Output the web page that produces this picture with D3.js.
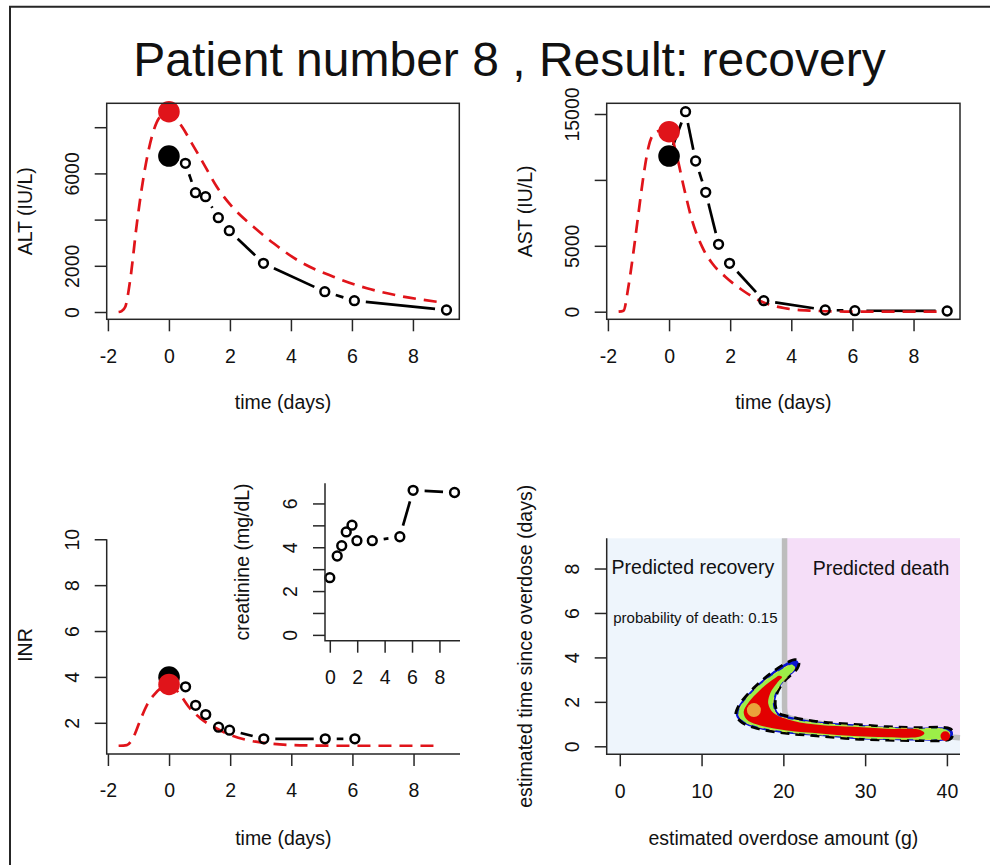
<!DOCTYPE html>
<html><head><meta charset="utf-8">
<script src="https://cdn.jsdelivr.net/npm/d3@7"></script>
<style>
body{margin:0;background:#fff;}
text{font-family:"Liberation Sans", Arial, Helvetica, sans-serif;fill:#111;}
</style></head><body>
<svg id="chart" width="990" height="865"></svg>
<script>
// ---------------- DATA ----------------
const chartTitle = "Patient number 8 , Result: recovery";
const obsTime = [0, 0.54, 0.87, 1.2, 1.62, 1.98, 3.1, 5.11, 6.08, 9.1];
const altObs  = [6753, 6437, 5165, 4991, 4082, 3519, 2107, 879, 489, 87];
const astObs  = [11810, 15175, 11434, 9059, 5114, 3672, 835, 129, 76, 53];
const inrObs  = [3.99, 3.57, 2.76, 2.36, 1.81, 1.68, 1.3, 1.3, 1.3];
const creatObs = [2.61, 3.6, 4.07, 4.7, 5.01, 4.3, 4.3, 4.48, 6.6, 6.5];

const altModelT = [-1.65,-1.55,-1.43,-1.27,-1.05,-0.83,-0.56,-0.29,0,0.43,0.75,1.13,1.57,2.12,2.77,3.43,4.3,5.39,6.49,7.58,8.85];
const altModelV = [0,40,230,1385,3840,5857,7589,8455,8671,8020,7303,6437,5424,4488,3693,2974,2177,1528,1026,693,430];
const astModelT = [-1.65,-1.49,-1.33,-1.17,-1.0,-0.84,-0.67,-0.45,-0.2,0,0.26,0.48,0.75,1.08,1.41,1.84,2.39,3.04,3.8,4.67,5.76,7.0,8.85];
const astModelV = [0,76,1897,4431,7466,10243,12519,13600,13760,13657,11760,9484,6958,4932,3672,2655,1646,759,258,76,10,0,0];
const inrModelT = [-1.65,-1.38,-1.16,-0.94,-0.72,-0.5,-0.28,0,0.37,0.64,1.02,1.45,2.0,2.54,3.2,4.28,5.5,7.0,8.85];
const inrModelV = [1.0,1.03,1.39,2.12,2.78,3.21,3.5,3.67,3.21,2.7,2.2,1.83,1.47,1.25,1.11,1.02,1.0,1.0,1.0];
const altModel0 = 8671, astModel0 = 13657, inrModel0 = 3.67;

const timeTicks = [-2, 0, 2, 4, 6, 8];
const altTicks = [0, 2000, 4000, 6000, 8000];
const altTickLabels = ["0", "2000", "", "6000", ""];
const astTicks = [0, 5000, 10000, 15000];
const astTickLabels = ["0", "5000", "", "15000"];
const inrTicks = [2, 4, 6, 8, 10];
const creatTicks = [0, 1, 2, 3, 4, 5, 6];
const creatTickLabels = ["0", "", "2", "", "4", "", "6"];
const creatTimeTicks = [0, 2, 4, 6, 8];
const doseTicks = [0, 10, 20, 30, 40];
const doseTimeTicks = [0, 2, 4, 6, 8];

// decision boundary (amount g, time days)
const boundary = [[20.15,9.36],[20.15,1.75],[20.25,1.45],[20.7,1.3],[21.7,1.2],[25,1.0],[30,0.76],[35,0.56],[41.6,0.38]];
// posterior contour regions (amount g, time days)
const contourOuter = [[21.47,3.9],[21.9,3.74],[21.7,3.5],[20.04,2.90],[19.23,2.38],[19.02,1.85],[19.43,1.5],[21.26,1.3],[24.52,1.1],[28.59,0.99],[32.67,0.88],[35.92,0.84],[40.4,0.79],[40.75,0.58],[40.4,0.33],[35.92,0.26],[32.67,0.28],[28.59,0.33],[24.52,0.46],[20.45,0.58],[16.78,0.8],[14.95,1.07],[14.2,1.40],[14.5,1.8],[16.37,2.62],[18.41,3.27],[20.04,3.68]];
const contourGreen = [[21.06,3.68],[21.36,3.52],[19.84,2.86],[18.94,2.33],[18.74,1.82],[19.3,1.4],[21.26,1.19],[24.52,1.03],[28.59,0.93],[32.67,0.84],[35.92,0.79],[40.0,0.73],[40.35,0.56],[40.0,0.38],[35.92,0.32],[32.67,0.33],[28.59,0.40],[24.52,0.52],[20.45,0.65],[16.78,0.89],[15.1,1.14],[14.52,1.44],[14.8,1.8],[16.58,2.58],[18.49,3.15],[19.96,3.5]];
const contourRed = [[19.84,3.12],[19.23,2.85],[18.41,2.40],[18.15,1.93],[18.8,1.50],[21.26,1.14],[24.52,0.96],[28.59,0.88],[32.67,0.79],[36.73,0.73],[37.25,0.59],[36.73,0.44],[32.67,0.41],[28.59,0.46],[24.52,0.58],[20.45,0.71],[16.78,0.98],[15.5,1.22],[15.15,1.55],[15.7,1.95],[17.19,2.55],[18.82,3.03],[19.47,3.18]];
const redPoint = [39.8, 0.46];
const bestEstimate = [16.4, 1.63];
const probDeath = 0.15;

// ---------------- DRAWING ----------------
const svg = d3.select("#chart");
const RED = "#e0141a";
const AX = "#262626";
const FS = 19.5;
const GAP = 11.5;

// figure frame
svg.append("path").attr("d", "M10,865 L10,6.7 L990,6.7").attr("fill","none").attr("stroke",AX).attr("stroke-width",2);

svg.append("text").attr("x", 509.5).attr("y", 76).attr("text-anchor","middle")
  .style("font-size","48px").text(chartTitle);

function makeScales(p){
  return {
    x: d3.scaleLinear().domain(p.xd).range([p.l, p.r]),
    y: d3.scaleLinear().domain(p.yd).range([p.b, p.t])
  };
}

function axes(g, p, s, o){
  const xa = d3.axisBottom(s.x).tickValues(o.xt).tickSize(12).tickSizeOuter(0)
      .tickFormat((d,i)=> o.xl ? o.xl[i] : String(d));
  const gx = g.append("g").attr("transform", `translate(0,${p.b})`).call(xa);
  gx.select(".domain").remove();
  gx.selectAll("line").attr("stroke", AX).attr("stroke-width", 1.5);
  gx.selectAll("text").attr("y", 43.4).attr("dy", 0).style("font-size", FS+"px").attr("fill","#111");
  const ya = d3.axisLeft(s.y).tickValues(o.yt).tickSize(12).tickSizeOuter(0)
      .tickFormat((d,i)=> o.yl ? o.yl[i] : String(d));
  const gy = g.append("g").attr("transform", `translate(${p.l},0)`).call(ya);
  gy.select(".domain").remove();
  gy.selectAll("line").attr("stroke", AX).attr("stroke-width", 1.5);
  gy.selectAll("text").attr("x", 0).attr("dy", 0).attr("transform","translate(-27.7,0) rotate(-90)")
    .attr("text-anchor","middle").style("font-size", FS+"px").attr("fill","#111");
  gx.attr("font-family", null); gy.attr("font-family", null);
  gx.attr("font-size", null); gy.attr("font-size", null);
}

function frame(g, p, kind, topY){
  if(kind === "box"){
    g.append("rect").attr("x",p.l).attr("y",p.t).attr("width",p.r-p.l).attr("height",p.b-p.t)
     .attr("fill","none").attr("stroke",AX).attr("stroke-width",1.5);
  } else {
    const t = topY !== undefined ? topY : p.t;
    g.append("path").attr("d",`M${p.l},${t} L${p.l},${p.b} L${p.r},${p.b}`)
     .attr("fill","none").attr("stroke",AX).attr("stroke-width",1.5);
  }
}

function labels(g, p, xlab, ylab, ylabX, ylabY, xlabY){
  g.append("text").attr("x",(p.l+p.r)/2).attr("y", xlabY).attr("text-anchor","middle")
   .style("font-size",FS+"px").text(xlab);
  g.append("text").attr("transform",`translate(${ylabX},${ylabY}) rotate(-90)`).attr("text-anchor","middle")
   .style("font-size",FS+"px").text(ylab);
}

// observed series: type "b" (points + gapped line)
function observed(g, s, T, V, gap){
  const pts = V.map((v,i)=>[s.x(T[i]), s.y(v)]);
  const segs = [];
  for(let i=0;i<pts.length-1;i++){
    const [x1,y1]=pts[i],[x2,y2]=pts[i+1];
    const d=Math.hypot(x2-x1,y2-y1);
    if(d>2*gap+1){
      const ux=(x2-x1)/d, uy=(y2-y1)/d;
      segs.push([x1+ux*gap,y1+uy*gap,x2-ux*gap,y2-uy*gap]);
    }
  }
  g.append("g").selectAll("line").data(segs).join("line")
   .attr("x1",d=>d[0]).attr("y1",d=>d[1]).attr("x2",d=>d[2]).attr("y2",d=>d[3])
   .attr("stroke","#000").attr("stroke-width",2.7);
  return pts;
}
function circles(g, pts, skipFirst){
  g.append("g").selectAll("circle").data(skipFirst ? pts.slice(1) : pts).join("circle")
   .attr("cx",d=>d[0]).attr("cy",d=>d[1]).attr("r",4.4)
   .attr("fill","none").attr("stroke","#000").attr("stroke-width",2.5);
}
function model(g, s, T, V){
  const line = d3.line().x((d,i)=>s.x(T[i])).y(d=>s.y(d)).curve(d3.curveMonotoneX);
  g.append("path").attr("d", line(V)).attr("fill","none").attr("stroke",RED)
   .attr("stroke-width",2.7).attr("stroke-dasharray","13,8");
}
function bigDots(g, s, obs0, mod0){
  g.append("circle").attr("cx",s.x(0)).attr("cy",s.y(obs0)).attr("r",10.8).attr("fill","#000");
  g.append("circle").attr("cx",s.x(0)).attr("cy",s.y(mod0)).attr("r",10.8).attr("fill",RED);
}

// ---- Panel 1: ALT ----
{
  const p = {l:106.7, r:459.3, t:103.3, b:319.3, xd:[-2.04,9.52], yd:[-316,9035]};
  const s = makeScales(p); const g = svg.append("g");
  const pts = observed(g, s, obsTime, altObs, GAP);
  model(g, s, altModelT, altModelV);
  circles(g, pts, true);
  bigDots(g, s, altObs[0], altModel0);
  frame(g, p, "box");
  axes(g, p, s, {xt:timeTicks, yt:altTicks, yl:altTickLabels});
  labels(g, p, "time (days)", "ALT (IU/L)", 32, (p.t+p.b)/2, 409);
}
// ---- Panel 2: AST ----
{
  const p = {l:606.7, r:960, t:103.3, b:319.3, xd:[-2.04,9.52], yd:[-577,15812]};
  const s = makeScales(p); const g = svg.append("g");
  const pts = observed(g, s, obsTime, astObs, GAP);
  model(g, s, astModelT, astModelV);
  circles(g, pts, true);
  bigDots(g, s, astObs[0], astModel0);
  frame(g, p, "box");
  axes(g, p, s, {xt:timeTicks, yt:astTicks, yl:astTickLabels});
  labels(g, p, "time (days)", "AST (IU/L)", 532, (p.t+p.b)/2, 409);
}
// ---- Panel 3: INR ----
{
  const p = {l:106.7, r:460, t:531, b:754, xd:[-2.04,9.52], yd:[0.64,10.36]};
  const s = makeScales(p); const g = svg.append("g");
  const pts = observed(g, s, obsTime.slice(0, inrObs.length), inrObs, GAP);
  model(g, s, inrModelT, inrModelV);
  circles(g, pts, true);
  bigDots(g, s, inrObs[0], inrModel0);
  frame(g, p, "l", s.y(10));
  axes(g, p, s, {xt:timeTicks, yt:inrTicks});
  labels(g, p, "time (days)", "INR", 32, 645, 845);
}
// ---- Inset: creatinine ----
{
  const p = {l:325, r:460, t:483.3, b:640.7, xd:[-0.35,9.5], yd:[-0.266,6.92]};
  const s = makeScales(p); const g = svg.append("g");
  const pts = observed(g, s, obsTime, creatObs, GAP);
  circles(g, pts, false);
  frame(g, p, "l");
  axes(g, p, s, {xt:creatTimeTicks, yt:creatTicks, yl:creatTickLabels});
  g.append("text").attr("transform",`translate(249,${(p.t+p.b)/2}) rotate(-90)`).attr("text-anchor","middle")
   .style("font-size",FS+"px").text("creatinine (mg/dL)");
}
// ---- Panel 4: overdose estimate ----
{
  const p = {l:606.7, r:960, t:538.3, b:754.3, xd:[-1.6,41.6], yd:[-0.36,9.36]};
  const s = makeScales(p); const g = svg.append("g");
  g.append("rect").attr("x",p.l).attr("y",p.t).attr("width",p.r-p.l).attr("height",p.b-p.t).attr("fill","#eef5fc");
  const xd = s.x.domain(), yd = s.y.domain();
  const pinkPoly = boundary.concat([[xd[1], yd[1]]]);
  const poly = d3.line().x(d=>s.x(d[0])).y(d=>s.y(d[1]));
  g.append("path").attr("d", poly(pinkPoly)+"Z").attr("fill","#f5def8");
  g.append("path").attr("d", d3.line().x(d=>s.x(d[0])).y(d=>s.y(d[1])).curve(d3.curveMonotoneY)(boundary))
   .attr("fill","none").attr("stroke","#bdbdbd").attr("stroke-width",5.5);
  const closed = d3.line().x(d=>s.x(d[0])).y(d=>s.y(d[1])).curve(d3.curveCatmullRomClosed.alpha(0.5));
  g.append("path").attr("d", closed(contourOuter)).attr("fill","#0a14d2").attr("stroke","#000")
   .attr("stroke-width",2.8).attr("stroke-dasharray","9,6");
  g.append("path").attr("d", closed(contourGreen)).attr("fill","#9cee48").attr("stroke","#d8f040")
   .attr("stroke-width",1).attr("stroke-dasharray","6,6");
  g.append("path").attr("d", closed(contourRed)).attr("fill","#e30000");
  g.append("circle").attr("cx",s.x(redPoint[0])).attr("cy",s.y(redPoint[1])).attr("r",4.8).attr("fill","#e30000");
  g.append("circle").attr("cx",s.x(bestEstimate[0])).attr("cy",s.y(bestEstimate[1])).attr("r",7).attr("fill","#eaa23a");
  frame(g, p, "l");
  axes(g, p, s, {xt:doseTicks, yt:doseTimeTicks});
  labels(g, p, "estimated overdose amount (g)", "estimated time since overdose (days)", 531.5, (p.t+p.b)/2, 845);
  g.append("text").attr("x", s.x(-1.0)).attr("y", s.y(7.77)).style("font-size","19.5px").text("Predicted recovery");
  g.append("text").attr("x", s.x(23.58)).attr("y", s.y(7.7)).style("font-size","19.5px").text("Predicted death");
  g.append("text").attr("x", s.x(-0.8)).attr("y", s.y(5.57)).style("font-size","15px").text("probability of death: " + probDeath);
}
</script>
</body></html>
